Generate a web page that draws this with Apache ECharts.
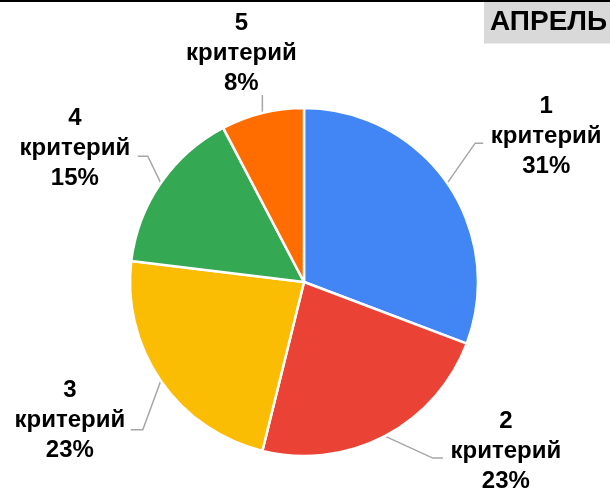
<!DOCTYPE html>
<html>
<head>
<meta charset="utf-8">
<script src="https://cdn.jsdelivr.net/npm/echarts@6/dist/echarts.min.js"></script>
<style>
html,body{margin:0;padding:0;background:#fff;}
#chart{width:610px;height:493px;}
</style>
</head>
<body>
<div id="chart"></div>
<script>
const titleText = 'АПРЕЛЬ';
const categories = ['1', '2', '3', '4', '5'];
const categoryWord = 'критерий';
const values = [4, 3, 3, 2, 1];
const colors = ['#4285F4', '#EA4335', '#FBBC04', '#34A853', '#FF6D01'];

// label guide styling (bend offset from slice edge, horizontal run, label offset from line end)
const guideStyle = [
  { bx: 28, by: -40, run: 8, lx: 63, ly: -7 },
  { bx: 48, by: 22, run: 10, lx: 63, ly: -7 },
  { bx: -18, by: 49, run: -12, lx: -61, ly: -9 },
  { bx: -13, by: -27, run: -10, lx: -63, ly: -8 },
  { bx: 0, by: -18, run: 0, lx: -21, ly: -42 }
];

const chart = echarts.init(document.getElementById('chart'), null, { renderer: 'canvas' });
const data = categories.map((c, i) => ({ name: c, value: values[i], itemStyle: { color: colors[i] } }));

chart.setOption({
  animation: false,
  title: {
    text: titleText,
    left: 484,
    top: 2,
    padding: [7, 20, 7, 6],
    backgroundColor: '#d9d9d9',
    textStyle: { fontFamily: 'Liberation Sans, Arial, sans-serif', fontSize: 28, lineHeight: 27, fontWeight: 'bold', color: '#000' }
  },
  graphic: [{
    type: 'rect', left: 0, top: 0, shape: { width: 610, height: 2 }, style: { fill: '#000' }, z: 100
  }],
  series: [{
    type: 'pie',
    center: [304, 282],
    radius: 174,
    startAngle: 90,
    clockwise: true,
    data: data,
    itemStyle: { borderColor: '#fff', borderWidth: 2.5 },
    label: {
      show: true,
      position: 'outside',
      formatter: function (p) {
        return '{t|' + p.name + '}\n{t|' + categoryWord + '}\n{t|' + Math.round(p.percent) + '%}';
      },
      rich: {
        t: {
          width: 118,
          align: 'center',
          fontFamily: 'Liberation Sans, Arial, sans-serif',
          fontSize: 24,
          fontWeight: 'bold',
          color: '#000',
          lineHeight: 30
        }
      }
    },
    labelLine: {
      show: true,
      length: 20,
      length2: 8,
      lineStyle: { color: '#a6a6a6', width: 1.5 }
    },
    labelLayout: function (params) {
      const a = params.labelLinePoints[0];
      const g = guideStyle[params.dataIndex];
      const bend = [a[0] + g.bx, a[1] + g.by];
      const end = [bend[0] + g.run, bend[1]];
      return {
        x: end[0] + g.lx,
        y: end[1] + g.ly,
        align: 'center',
        verticalAlign: 'middle',
        labelLinePoints: [a, bend, end]
      };
    }
  }]
});
</script>
</body>
</html>
